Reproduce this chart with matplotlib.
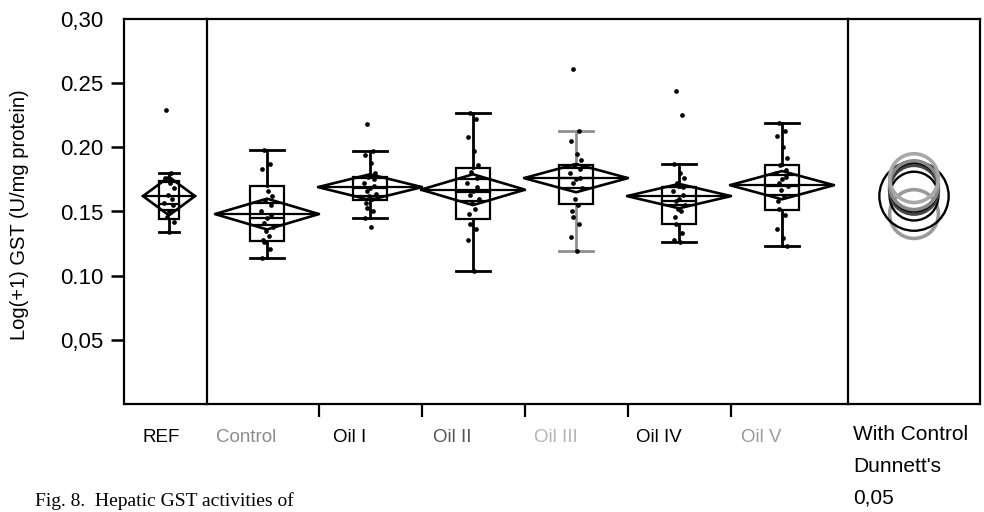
import matplotlib
matplotlib.use("Agg")
import matplotlib.pyplot as plt
from matplotlib.patches import Polygon, Rectangle, Circle

plt.rcParams['font.family'] = ['Liberation Sans', 'DejaVu Sans']

# ---- data -------------------------------------------------------------
groups = ["REF", "Control", "Oil I", "Oil II", "Oil III", "Oil IV", "Oil V"]

obs_ref = [0.229, 0.180, 0.176, 0.172, 0.168, 0.163, 0.160, 0.157, 0.155,
           0.150, 0.146, 0.142, 0.134]
obs_control = [0.198, 0.187, 0.183, 0.166, 0.162, 0.158, 0.155, 0.150, 0.147,
               0.145, 0.141, 0.138, 0.135, 0.131, 0.128, 0.126, 0.121, 0.114]
obs_oil1 = [0.218, 0.197, 0.194, 0.188, 0.180, 0.177, 0.175, 0.172, 0.170,
            0.168, 0.166, 0.164, 0.162, 0.160, 0.157, 0.153, 0.150, 0.145, 0.138]
obs_oil2 = [0.227, 0.222, 0.208, 0.197, 0.186, 0.181, 0.176, 0.172, 0.169,
            0.166, 0.163, 0.160, 0.157, 0.152, 0.148, 0.140, 0.136, 0.128, 0.104]
obs_oil3 = [0.261, 0.213, 0.205, 0.195, 0.190, 0.186, 0.183, 0.180, 0.176,
            0.175, 0.172, 0.168, 0.160, 0.155, 0.150, 0.146, 0.140, 0.130, 0.119]
obs_oil4 = [0.244, 0.225, 0.187, 0.180, 0.176, 0.172, 0.169, 0.166, 0.163,
            0.160, 0.158, 0.155, 0.152, 0.150, 0.146, 0.140, 0.133, 0.128, 0.126]
obs_oil5 = [0.219, 0.213, 0.209, 0.200, 0.192, 0.186, 0.182, 0.180, 0.177,
            0.175, 0.172, 0.170, 0.167, 0.162, 0.158, 0.152, 0.147, 0.136, 0.129, 0.123]
observations = [obs_ref, obs_control, obs_oil1, obs_oil2, obs_oil3, obs_oil4, obs_oil5]

# quantile boxes
whisker_lo = [0.134, 0.114, 0.145, 0.104, 0.119, 0.126, 0.123]
q1         = [0.144, 0.127, 0.159, 0.144, 0.156, 0.140, 0.151]
median     = [0.156, 0.145, 0.168, 0.165, 0.176, 0.158, 0.170]
q3         = [0.174, 0.170, 0.177, 0.184, 0.186, 0.169, 0.186]
whisker_hi = [0.180, 0.198, 0.197, 0.227, 0.213, 0.187, 0.219]

# means diamonds (mean and 95% CI half-height), group sizes
means   = [0.162, 0.148, 0.169, 0.167, 0.176, 0.162, 0.1705]
ci_half = [0.015, 0.012, 0.010, 0.012, 0.011, 0.0095, 0.011]
n_obs   = [10, 20, 20, 20, 20, 20, 20]

# Dunnett's comparison circles (with Control), alpha 0.05
dunnett_radius = [0.027, 0.019, 0.019, 0.019, 0.019, 0.019, 0.019]

label_colors  = ["black", "#8c8c8c", "black", "#555555", "#b4b4b4", "black", "#9a9a9a"]
circle_colors = ["black", "#9a9a9a", "black", "#444444", "#a8a8a8", "black", "#8a8a8a"]
whisker_colors = ["black", "black", "black", "black", "#8f8f8f", "black", "black"]

# ---- layout -----------------------------------------------------------
W, H = 984, 512
fig = plt.figure(figsize=(W / 100, H / 100), dpi=100)
fig.patch.set_facecolor("white")

top_px, bot_px = 19, 404
x_left, x_sep1, x_sep2, x_right = 124, 207, 848, 980
unit_px = 103.0          # horizontal pixels per category
y_range = (0.0, 0.30)
px_per_y = (bot_px - top_px) / (y_range[1] - y_range[0])


def panel(x0, x1):
    ax = fig.add_axes([x0 / W, (H - bot_px) / H, (x1 - x0) / W, (bot_px - top_px) / H])
    ax.set_facecolor("none")
    return ax


ax_ref = panel(x_left, x_sep1)
ax_mid = panel(x_sep1, x_sep2)
ax_dun = panel(x_sep2, x_right)

ref_center_px = 169
mid_first_px = 267
ax_ref.set_xlim((x_left - ref_center_px) / unit_px, (x_sep1 - ref_center_px) / unit_px)
ax_mid.set_xlim((x_sep1 - mid_first_px) / unit_px, (x_sep2 - mid_first_px) / unit_px)
half_dun = (x_right - x_sep2) / 2 / px_per_y
ax_dun.set_xlim(-half_dun, half_dun)

LW = 1.6
for ax in (ax_ref, ax_mid, ax_dun):
    ax.set_ylim(*y_range)
    for s in ax.spines.values():
        s.set_linewidth(LW)
        s.set_color("black")
    ax.tick_params(axis="y", left=False, labelleft=False)
for ax in (ax_mid, ax_dun):
    ax.spines["left"].set_visible(False)

jitter = [-0.03, 0.025, -0.045, 0.01, 0.05, -0.015, 0.035, -0.055, 0.04, 0.0,
          -0.025, 0.055, -0.005, 0.02, -0.04]


def draw_group(ax, x, i, box_half, diamond_half, jitter_scale):
    wc = whisker_colors[i]
    # whiskers and caps
    ax.plot([x, x], [whisker_lo[i], q1[i]], color=wc, lw=LW + 0.4, zorder=2)
    ax.plot([x, x], [q3[i], whisker_hi[i]], color=wc, lw=LW + 0.4, zorder=2)
    for v in (whisker_lo[i], whisker_hi[i]):
        ax.plot([x - box_half, x + box_half], [v, v], color=wc, lw=LW + 0.4, zorder=2)
    # quantile box with median
    ax.add_patch(Rectangle((x - box_half, q1[i]), 2 * box_half, q3[i] - q1[i],
                           fill=False, ec="black", lw=LW, zorder=3))
    ax.plot([x - box_half, x + box_half], [median[i], median[i]], color="black", lw=LW, zorder=3)
    # means diamond with overlap marks
    m, c = means[i], ci_half[i]
    ax.add_patch(Polygon([(x - diamond_half, m), (x, m + c), (x + diamond_half, m), (x, m - c)],
                         closed=True, fill=False, ec="black", lw=LW + 0.3, zorder=4))
    ax.plot([x - diamond_half, x + diamond_half], [m, m], color="black", lw=LW, zorder=4)
    ov = c / 2 ** 0.5
    ow = diamond_half * (1 - ov / c)
    for v in (m - ov, m + ov):
        ax.plot([x - ow, x + ow], [v, v], color="black", lw=LW, zorder=4)
    # individual observations
    pts = observations[i]
    xs = [x + jitter[k % len(jitter)] * jitter_scale for k in range(len(pts))]
    ax.plot(xs, pts, "o", ms=3.4, color="black", mec="none", zorder=5)


# REF panel
draw_group(ax_ref, 0.0, 0, box_half=0.10,
           diamond_half=0.505 * n_obs[0] / 20, jitter_scale=0.9)

# treatment panel
for j in range(1, len(groups)):
    draw_group(ax_mid, j - 1, j, box_half=0.165,
               diamond_half=0.505 * n_obs[j] / 20, jitter_scale=1.0)

# Dunnett's comparison circles
order = [1, 0, 5, 3, 2, 6, 4]
for i in order:
    lw = 2.6 if circle_colors[i] != "black" else 1.7
    ax_dun.add_patch(Circle((0.0, means[i]), dunnett_radius[i], fill=False,
                            ec=circle_colors[i], lw=lw, zorder=3))

# ---- axes, ticks, labels ---------------------------------------------
ax_ref.tick_params(axis="y", left=True, labelleft=True, direction="out",
                   length=9.5, width=1.8, pad=5, labelsize=16)
yt = [0.05, 0.10, 0.15, 0.20, 0.25, 0.30]
ax_ref.set_yticks(yt)
ax_ref.set_yticklabels(["0,05", "0.10", "0.15", "0.20", "0.25", "0,30"])
ax_ref.yaxis.get_major_ticks()[-1].tick1line.set_visible(False)

label_shift = 0.2
ax_ref.set_xticks([-0.08])
ax_ref.set_xticklabels([groups[0]])
ax_ref.tick_params(axis="x", length=0, pad=18, labelsize=13.5)

ax_mid.set_xticks([j - 1 - label_shift for j in range(1, len(groups))])
ax_mid.set_xticklabels(groups[1:])
ax_mid.set_xticks([k + 0.5 for k in range(len(groups) - 2)], minor=True)
ax_mid.tick_params(axis="x", which="major", length=0, pad=18, labelsize=13.5)
ax_mid.tick_params(axis="x", which="minor", direction="out", length=9, width=1.6)

for ax, cols in ((ax_ref, label_colors[:1]), (ax_mid, label_colors[1:])):
    for lab, col in zip(ax.get_xticklabels(), cols):
        lab.set_color(col)

ax_dun.set_xticks([])
ax_dun.text(0.04, -0.055, "With Control\nDunnett's\n0,05", transform=ax_dun.transAxes,
            ha="left", va="top", fontsize=15, linespacing=1.85)

fig.text(20 / W, 1 - 215 / H, "Log(+1) GST (U/mg protein)", rotation=90,
         ha="center", va="center", fontsize=14.5)

fig.text(35 / W, 1.5 / H, "Fig. 8.  Hepatic GST activities of", ha="left", va="bottom",
         fontsize=14, family=["Liberation Serif", "DejaVu Serif"])

fig.savefig("out.png", dpi=100)
